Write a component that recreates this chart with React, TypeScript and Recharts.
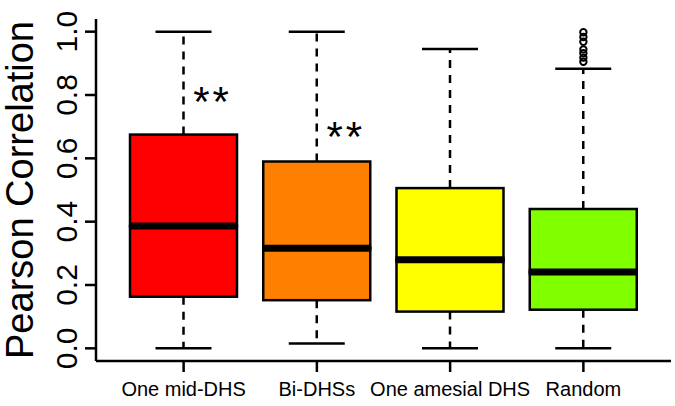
import { ComposedChart, Bar, Scatter, XAxis, YAxis, ReferenceDot } from 'recharts';

const categories = ['One mid-DHS', 'Bi-DHSs', 'One amesial DHS', 'Random'];
const lowerWhisker = [0.0, 0.015, 0.0, 0.0];
const firstQuartile = [0.163, 0.152, 0.116, 0.122];
const medians = [0.386, 0.316, 0.28, 0.241];
const thirdQuartile = [0.675, 0.59, 0.506, 0.44];
const upperWhisker = [1.0, 1.0, 0.945, 0.883];
const boxColors = ['#ff0000', '#ff8000', '#ffff00', '#80ff00'];
const randomOutliers = [0.998, 0.983, 0.968, 0.944, 0.932, 0.918, 0.905];
const starCategories = ['One mid-DHS', 'Bi-DHSs'];
const starLevels = [0.8, 0.689];
const yTicks = [0, 0.2, 0.4, 0.6, 0.8, 1.0];

const FONT = '"Liberation Sans", Arial, sans-serif';
const CAP = 56;
const LW = 2.5;

// stacked pieces of each box: invisible base, lower whisker, two box halves, upper whisker
const data = categories.map((name, i) => ({
    name,
    base: lowerWhisker[i],
    lowWhisker: firstQuartile[i] - lowerWhisker[i],
    lowBox: medians[i] - firstQuartile[i],
    highBox: thirdQuartile[i] - medians[i],
    highWhisker: upperWhisker[i] - thirdQuartile[i],
    color: boxColors[i],
}));

const outlierData = randomOutliers.map((v) => ({ name: 'Random', value: v }));

const Empty = () => <g />;

const LowWhiskerShape = (p: any) => {
    const cx = p.x + p.width / 2;
    const bottom = p.y + p.height;
    return (
        <g>
            <line x1={cx} x2={cx} y1={p.y} y2={bottom} stroke="#000" strokeWidth={LW} strokeDasharray="8 7" />
            <line x1={cx - CAP / 2} x2={cx + CAP / 2} y1={bottom} y2={bottom} stroke="#000" strokeWidth={LW} />
        </g>
    );
};

const HighWhiskerShape = (p: any) => {
    const cx = p.x + p.width / 2;
    return (
        <g>
            <line x1={cx} x2={cx} y1={p.y + p.height} y2={p.y} stroke="#000" strokeWidth={LW} strokeDasharray="8 7" />
            <line x1={cx - CAP / 2} x2={cx + CAP / 2} y1={p.y} y2={p.y} stroke="#000" strokeWidth={LW} />
        </g>
    );
};

const LowBoxShape = (p: any) => (
    <rect x={p.x} y={p.y} width={p.width} height={p.height} fill={p.payload.color} stroke="#000" strokeWidth={LW} />
);

const HighBoxShape = (p: any) => {
    const bottom = p.y + p.height;
    return (
        <g>
            <rect x={p.x} y={p.y} width={p.width} height={p.height} fill={p.payload.color} stroke="#000" strokeWidth={LW} />
            <line x1={p.x - 1} x2={p.x + p.width + 1} y1={bottom} y2={bottom} stroke="#000" strokeWidth={7} />
        </g>
    );
};

const OutlierShape = (p: any) => (
    <circle cx={p.cx} cy={p.cy} r={3.2} fill="none" stroke="#000" strokeWidth={2} />
);

const YTick = (p: any) => (
    <text transform={`translate(${p.x},${p.y}) rotate(-90)`} textAnchor="middle" fontSize={30} fontFamily={FONT} fill="#000">
        {Number(p.payload.value).toFixed(1)}
    </text>
);

const XTick = (p: any) => (
    <text x={p.x} y={p.y} dy={16} textAnchor="middle" fontSize={20} fontFamily={FONT} fill="#000">
        {p.payload.value}
    </text>
);

const YLabel = (p: any) => {
    const vb = p.viewBox || { y: 19, height: 342 };
    const cy = vb.y + vb.height / 2;
    return (
        <text transform={`translate(33,${cy}) rotate(-90)`} textAnchor="middle" fontSize={38} fontFamily={FONT} fill="#000">
            Pearson Correlation
        </text>
    );
};

const Stars = (p: any) => (
    <text x={p.cx + 29} y={p.cy + 21} textAnchor="middle" fontSize={42} fontFamily={FONT} letterSpacing={3} fill="#000">
        **
    </text>
);

export default function App() {
    return (
        <div style={{ position: 'absolute', left: 0, top: 0, width: 675, height: 406, background: '#fff' }}>
            <ComposedChart width={675} height={406} data={data} margin={{ top: 19, right: 4, bottom: 0, left: 0 }}>
                <XAxis
                    dataKey="name"
                    allowDuplicatedCategory={false}
                    padding={{ left: 21, right: 21 }}
                    height={45}
                    tickSize={11}
                    tickMargin={8}
                    tick={<XTick />}
                    axisLine={{ stroke: '#000', strokeWidth: LW }}
                    tickLine={{ stroke: '#000', strokeWidth: LW }}
                />
                <XAxis
                    xAxisId="top"
                    orientation="top"
                    dataKey="name"
                    allowDuplicatedCategory={false}
                    height={0}
                    tick={false}
                    tickLine={false}
                    axisLine={{ stroke: '#000', strokeWidth: LW }}
                />
                <YAxis
                    type="number"
                    domain={[-0.04, 1.04]}
                    allowDataOverflow
                    ticks={yTicks}
                    width={96}
                    tickSize={11}
                    tickMargin={8}
                    tick={<YTick />}
                    axisLine={{ stroke: '#000', strokeWidth: LW }}
                    tickLine={{ stroke: '#000', strokeWidth: LW }}
                    label={{ content: <YLabel /> }}
                />
                <YAxis
                    yAxisId="right"
                    orientation="right"
                    type="number"
                    domain={[-0.04, 1.04]}
                    allowDataOverflow
                    width={0}
                    tick={false}
                    tickLine={false}
                    axisLine={{ stroke: '#000', strokeWidth: LW }}
                />
                <Bar dataKey="base" stackId="box" barSize={107} shape={<Empty />} isAnimationActive={false} />
                <Bar dataKey="lowWhisker" stackId="box" barSize={107} shape={<LowWhiskerShape />} isAnimationActive={false} />
                <Bar dataKey="lowBox" stackId="box" barSize={107} shape={<LowBoxShape />} isAnimationActive={false} />
                <Bar dataKey="highBox" stackId="box" barSize={107} shape={<HighBoxShape />} isAnimationActive={false} />
                <Bar dataKey="highWhisker" stackId="box" barSize={107} shape={<HighWhiskerShape />} isAnimationActive={false} />
                <Scatter data={outlierData} dataKey="value" shape={<OutlierShape />} isAnimationActive={false} />
                {starCategories.map((c, i) => (
                    <ReferenceDot key={c} x={c} y={starLevels[i]} r={0} shape={<Stars />} />
                ))}
            </ComposedChart>
        </div>
    );
}
